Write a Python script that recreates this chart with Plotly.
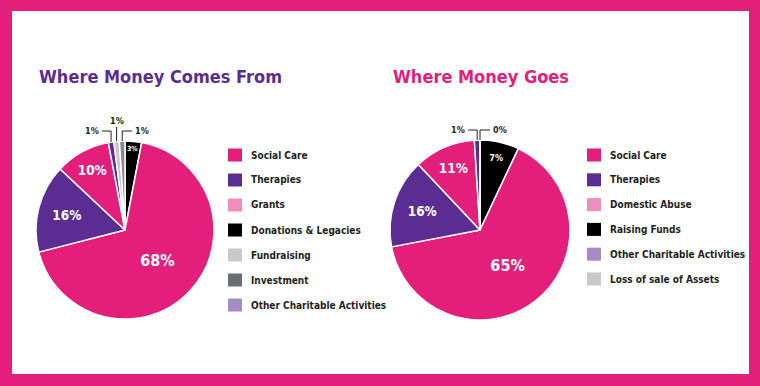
import math
import plotly.graph_objects as go

# ---------------- data ----------------
in_labels = ["Donations & Legacies", "Social Care", "Therapies", "Grants",
             "Other Charitable Activities", "Fundraising", "Investment"]
in_values = [3, 68, 16, 10, 1, 1, 1]
in_slice_colors = ["#000000", "#E31E7B", "#5C2D91", "#E31E7B",
                   "#5C2D91", "#C9C9C9", "#8A8A8C"]

out_labels = ["Raising Funds", "Social Care", "Therapies", "Domestic Abuse",
              "Other Charitable Activities", "Loss of sale of Assets"]
out_values = [7, 65, 16, 11, 1, 0]
out_slice_colors = ["#000000", "#E31E7B", "#5C2D91", "#E31E7B",
                    "#5C2D91", "#C9C9C9"]

in_legend_labels = ["Social Care", "Therapies", "Grants", "Donations & Legacies",
                    "Fundraising", "Investment", "Other Charitable Activities"]
in_legend_colors = ["#E31E7B", "#5C2D91", "#F08DBF", "#000000",
                    "#C9C9C9", "#6D6E70", "#A68BC4"]
out_legend_labels = ["Social Care", "Therapies", "Domestic Abuse", "Raising Funds",
                     "Other Charitable Activities", "Loss of sale of Assets"]
out_legend_colors = ["#E31E7B", "#5C2D91", "#F08DBF", "#000000",
                     "#A68BC4", "#C9C9C9"]

title_left = "Where Money Comes From"
title_right = "Where Money Goes"

# ---------------- styling / layout helpers ----------------
W, H = 760, 386
ML, MR, MT, MB = 12, 11, 11, 12
PW, PH = W - ML - MR, H - MT - MB
PINK = "#E31E7B"
PURPLE = "#5C2D91"
FONT = "DejaVu Sans Condensed, DejaVu Sans, sans-serif"
TXT = "#231F20"

# where the small-slice callouts go (style, not data)
in_callout_sides = ["left", "up", "right"]
out_callout_sides = ["left", "right"]


def px(x):
    return (x - ML) / PW


def py(y):
    return 1 - (y - MT) / PH


shapes = [dict(type="rect", xref="paper", yref="paper", x0=0, x1=1, y0=0, y1=1,
               fillcolor="white", line=dict(width=0), layer="below")]
annotations = []


def pie_trace(labels, values, colors, cx, cy, r, inside_sizes):
    pos = ["inside" if v >= 3 else "none" for v in values]
    return go.Pie(
        labels=labels, values=values, sort=False, direction="clockwise",
        rotation=0, hole=0,
        marker=dict(colors=colors, line=dict(color="white", width=1.5)),
        texttemplate="%{percent:.0%}", textposition=pos,
        insidetextorientation="horizontal",
        insidetextfont=dict(color="white", size=inside_sizes, family=FONT, weight="bold"),
        domain=dict(x=[px(cx - r), px(cx + r)], y=[py(cy + r), py(cy - r)]),
        showlegend=False, hoverinfo="label+percent",
    )


def callouts(values, cx, cy, r, sides):
    total = sum(values)
    cum = 0
    k = 0
    for v in values:
        if v < 3:
            th = 2 * math.pi * (cum + v / 2) / total
            x = cx + r * math.sin(th)
            y = cy - r * math.cos(th)
            side = sides[k]
            k += 1
            txt = f"{v / total:.0%}"
            top = cy - r - 10
            if side == "up":
                path = f"M{px(x)},{py(y)} L{px(x)},{py(top - 4)}"
                ax, ay, xa, ya = x, top - 10, "center", "middle"
            elif side == "left":
                path = f"M{px(x)},{py(y)} L{px(x)},{py(top)} L{px(x - 9)},{py(top)}"
                ax, ay, xa, ya = x - 10, top, "right", "middle"
            else:
                path = f"M{px(x)},{py(y)} L{px(x)},{py(top)} L{px(x + 10)},{py(top)}"
                ax, ay, xa, ya = x + 11, top, "left", "middle"
            shapes.append(dict(type="path", xref="paper", yref="paper", path=path,
                               line=dict(color=TXT, width=1)))
            annotations.append(dict(text=txt, x=px(ax), y=py(ay), xref="paper",
                                    yref="paper", xanchor=xa, yanchor=ya,
                                    showarrow=False,
                                    font=dict(size=9, color=TXT, family=FONT,
                                              weight="bold")))
        cum += v


def add_legend(labels, colors, x0, y0, step):
    for i, (lab, col) in enumerate(zip(labels, colors)):
        yc = y0 + i * step
        shapes.append(dict(type="rect", xref="paper", yref="paper",
                           x0=px(x0), x1=px(x0 + 14), y0=py(yc + 6.5), y1=py(yc - 6.5),
                           fillcolor=col, line=dict(width=0)))
        annotations.append(dict(text=lab, x=px(x0 + 21), y=py(yc), xref="paper",
                                yref="paper", xanchor="left", yanchor="middle",
                                showarrow=False,
                                font=dict(size=10, color=TXT, family=FONT, weight="bold")))


fig = go.Figure()
fig.add_trace(pie_trace(in_labels, in_values, in_slice_colors, 125, 230, 89,
                        [7, 16, 13.5, 13.5, 9, 9, 9]))
fig.add_trace(pie_trace(out_labels, out_values, out_slice_colors, 480, 230, 90,
                        [9, 16, 13.5, 13.5, 9, 9]))

callouts(in_values, 125, 230, 89, in_callout_sides)
callouts(out_values, 480, 230, 90, out_callout_sides)

annotations += [
    dict(text=title_left, x=px(37), y=py(76), xref="paper", yref="paper",
         xanchor="left", yanchor="middle", showarrow=False,
         font=dict(size=18, color=PURPLE, family=FONT, weight="bold")),
    dict(text=title_right, x=px(391), y=py(76), xref="paper", yref="paper",
         xanchor="left", yanchor="middle", showarrow=False,
         font=dict(size=18, color=PINK, family=FONT, weight="bold")),
]

add_legend(in_legend_labels, in_legend_colors, 228, 155, 25)
add_legend(out_legend_labels, out_legend_colors, 587, 155, 24.8)

fig.update_layout(
    width=W, height=H, paper_bgcolor=PINK, plot_bgcolor="white",
    margin=dict(l=ML, r=MR, t=MT, b=MB),
    shapes=shapes, annotations=annotations,
)

fig.write_html("out.html", config={"displayModeBar": False},
               post_script="document.body.style.margin='0';")
